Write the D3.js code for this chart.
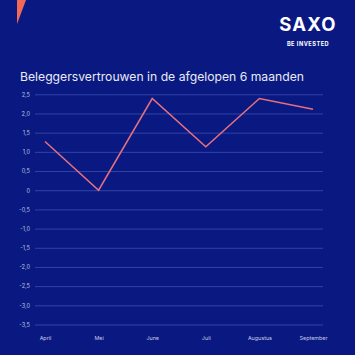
<!DOCTYPE html>
<html><head><meta charset="utf-8">
<script src="https://cdn.jsdelivr.net/npm/d3@7"></script>
<style>html,body{margin:0;padding:0;background:#0a1982;}svg{display:block;}</style>
</head><body>
<script>
const months = ["April","Mei","June","Juli","Augustus","September"];
const values = [1.27, 0.0, 2.39, 1.13, 2.39, 2.11];
const yTicks = [2.5,2.0,1.5,1.0,0.5,0,-0.5,-1.0,-1.5,-2.0,-2.5,-3.0,-3.5];
const title = "Beleggersvertrouwen in de afgelopen 6 maanden";

const W=355,H=355;
const svg=d3.select("body").append("svg").attr("width",W).attr("height",H);
svg.append("rect").attr("width",W).attr("height",H).attr("fill","#0a1982");
svg.append("path").attr("d","M17,0L26,0L17,24Z").attr("fill","#f06a57");
svg.append("text").attr("x",308).attr("y",31).attr("text-anchor","middle")
  .attr("font-family","Inter, 'Open Sans', sans-serif").attr("font-weight",700)
  .attr("font-size",18.5).attr("letter-spacing",1.2).attr("fill","#ffffff").text("SAXO");
svg.append("text").attr("x",308).attr("y",45.8).attr("text-anchor","middle")
  .attr("font-family","Inter, 'Open Sans', sans-serif").attr("font-weight",700)
  .attr("font-size",5.6).attr("letter-spacing",0.5).attr("fill","#ffffff").text("BE INVESTED");
svg.append("text").attr("x",20).attr("y",81)
  .attr("font-family","Inter, 'Open Sans', sans-serif").attr("font-size",12.2)
  .attr("fill","#e8eaf4").text(title);

const y=d3.scaleLinear().domain([-3.5,2.5]).range([324.5,94.3]);
const x=d3.scalePoint().domain(months).range([45,313]);
const fmt=d=>d===0?"0":d3.format(".1f")(d).replace(".",",").replace("−","-");

const gy=svg.append("g").attr("transform","translate(35,0)")
  .call(d3.axisLeft(y).tickValues(yTicks).tickSize(-288).tickFormat(fmt).tickPadding(5));
gy.select(".domain").remove();
gy.selectAll(".tick line").attr("stroke","#3044a6").attr("stroke-width",1);
gy.selectAll(".tick text").attr("fill","#b9c0e0").attr("font-size",5.6)
  .attr("font-family","Inter, 'Open Sans', sans-serif");

const gx=svg.append("g").attr("transform","translate(0,336.5)")
  .call(d3.axisBottom(x).tickSize(0).tickPadding(0));
gx.select(".domain").remove();
gx.selectAll(".tick text").attr("fill","#c4cae6").attr("font-size",5.4)
  .attr("font-family","Inter, 'Open Sans', sans-serif").attr("dy","0.71em");

const line=d3.line().x((d,i)=>x(months[i])).y(d=>y(d));
svg.append("path").datum(values).attr("d",line).attr("fill","none")
  .attr("stroke","#e7707e").attr("stroke-width",1.5).attr("stroke-linejoin","miter");
</script>
</body></html>
